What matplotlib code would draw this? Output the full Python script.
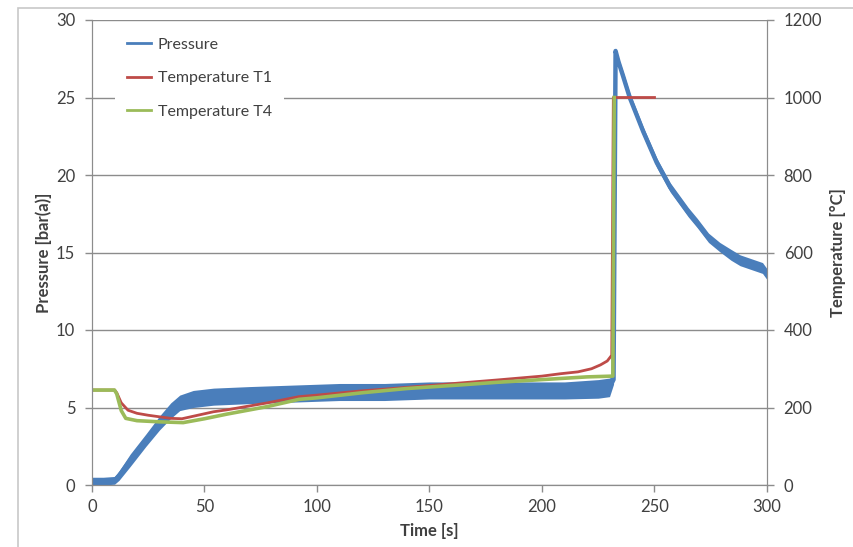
import matplotlib
matplotlib.use("Agg")
import matplotlib.pyplot as plt
from matplotlib.patches import Rectangle

# pressure readings (bar(a)) with half-width of the noise band
t_p = [0, 5, 10, 12, 17, 24, 30, 35, 39, 45, 54, 70, 90, 110, 130, 150, 170, 190,
       210, 225, 230, 231.8, 232.7, 234, 236, 239, 242, 245, 248, 251, 254, 257, 261,
       265, 269, 274, 279, 284, 288, 292, 296, 298, 300]
p = [0.25, 0.25, 0.3, 0.6, 1.6, 2.9, 4.0, 4.8, 5.3, 5.55, 5.7, 5.8, 5.9, 6.0, 6.0, 6.1, 6.1, 6.1,
     6.1, 6.2, 6.3, 6.8, 28.0, 27.3, 26.4, 25.0, 23.9, 22.8, 21.8, 20.8, 20.0, 19.2, 18.4,
     17.6, 16.9, 15.95, 15.35, 14.85, 14.5, 14.3, 14.1, 14.0, 13.6]
p_half = [0.25, 0.25, 0.25, 0.3, 0.4, 0.4, 0.45, 0.5, 0.5, 0.55, 0.55, 0.55, 0.55, 0.55, 0.55, 0.55, 0.55, 0.55,
          0.55, 0.6, 0.6, 0.3, 0.2, 0.25, 0.3, 0.3, 0.3, 0.3, 0.3, 0.3, 0.3, 0.3, 0.3,
          0.3, 0.3, 0.3, 0.3, 0.35, 0.35, 0.35, 0.35, 0.35, 0.35]

# temperature T1 (°C)
t_t1 = [0, 10, 11, 13, 16, 20, 25, 30, 35, 40, 54, 60, 78, 92, 100, 120, 140, 163,
        180, 200, 208, 216, 222, 226, 229, 231, 231.7, 250]
t1 = [245, 245, 238, 212, 193, 185, 180, 176, 172, 171, 189, 194, 212, 228, 232, 243, 252, 263,
      271, 281, 287, 292, 300, 310, 320, 335, 1000, 1000]

# temperature T4 (°C)
t_t4 = [0, 10, 11, 13, 15, 20, 30, 40.5, 50, 60, 77.6, 92, 100, 120, 140, 163,
        180, 200, 220, 231.5, 232.1]
t4 = [245, 245, 235, 192, 172, 166, 163, 161, 171, 183, 202, 221, 225, 238, 249, 258,
      265, 272, 279, 281, 1000]

c_blue = "#4a7ebb"
c_red = "#be4b48"
c_green = "#9bbb59"
c_grid = "#8c8c8c"
c_text = "#404040"

plt.rcParams["font.family"] = ["Lato", "DejaVu Sans"]
plt.rcParams["font.size"] = 11.5

fig = plt.figure(figsize=(8.54, 5.47), dpi=100)
fig.patches.append(Rectangle((18 / 854, -0.5), 2, 1.5 - 8 / 547, transform=fig.transFigure,
                             fill=False, edgecolor="#c8c8c8", linewidth=1.2))
ax = fig.add_axes([92 / 854, 1 - 485 / 547, (767 - 92) / 854, (485 - 20) / 547])
ax2 = ax.twinx()

p_lo = [a - b for a, b in zip(p, p_half)]
p_hi = [a + b for a, b in zip(p, p_half)]
ax.fill_between(t_p, p_lo, p_hi, color=c_blue, linewidth=0)
l1, = ax.plot(t_p, p, color=c_blue, linewidth=3.2, label="Pressure")
l2, = ax2.plot(t_t1, t1, color=c_red, linewidth=2, label="Temperature T1")
l3, = ax2.plot(t_t4, t4, color=c_green, linewidth=2.6, label="Temperature T4")

ax.set_xlim(0, 300)
ax.set_ylim(0, 30)
ax2.set_ylim(0, 1200)
ax.set_xticks(range(0, 301, 50))
ax.set_yticks(range(0, 31, 5))
ax2.set_yticks(range(0, 1201, 200))

ax.set_axisbelow(True)
ax.grid(axis="y", color=c_grid, linewidth=1)
for a in (ax, ax2):
    a.spines["top"].set_visible(False)
    for s in ("left", "right", "bottom"):
        a.spines[s].set_color(c_grid)
    a.tick_params(colors=c_grid, labelcolor=c_text, length=5, width=1, labelsize=12)
ax.tick_params(axis="y", pad=7)
ax2.tick_params(axis="y", pad=7)
ax.tick_params(axis="x", pad=5)

ax.set_xlabel("Time [s]", fontweight="bold", color=c_text, labelpad=6, fontsize=12)
ax.set_ylabel("Pressure [bar(a)]", fontweight="bold", color=c_text, labelpad=3, fontsize=12)
ax2.set_ylabel("Temperature [°C]", fontweight="bold", color=c_text, labelpad=6, fontsize=12)

leg = ax2.legend(handles=[l1, l2, l3], loc="upper left", bbox_to_anchor=(0.022, 1.005),
                 frameon=True, fancybox=False, facecolor="white", edgecolor="none",
                 framealpha=1, labelspacing=1.2, handlelength=1.5, handletextpad=0.45,
                 borderpad=0.75, fontsize=11.5)
for txt in leg.get_texts():
    txt.set_color(c_text)
for h in leg.legend_handles:
    h.set_linewidth(2)

fig.savefig("out.png", dpi=100)
